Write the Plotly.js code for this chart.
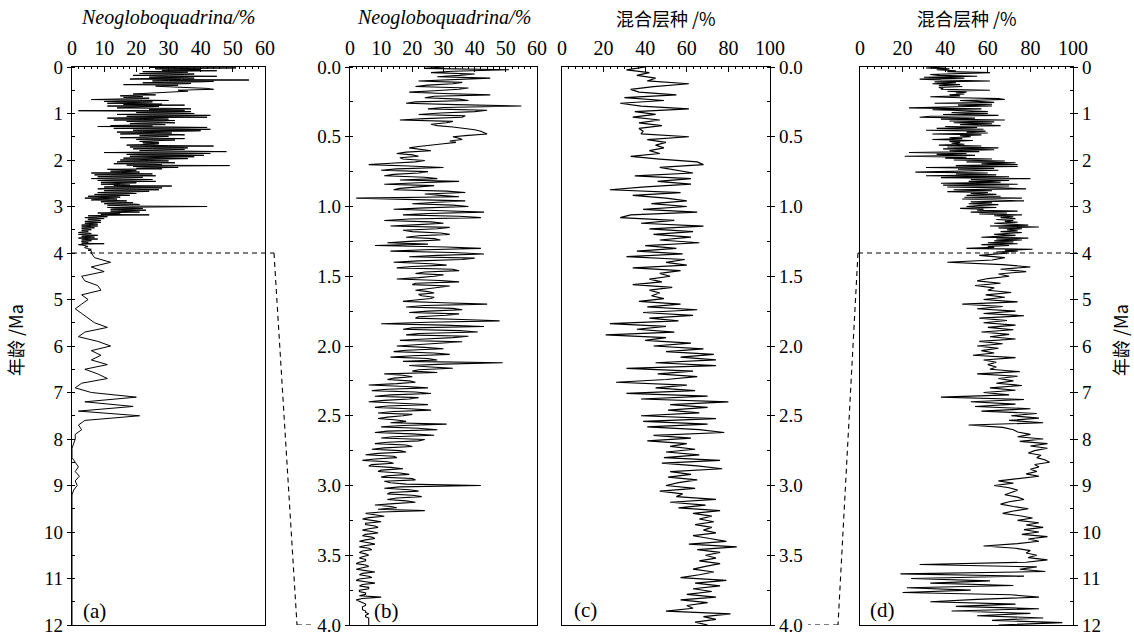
<!DOCTYPE html>
<html>
<head>
<meta charset="utf-8">
<script src="https://cdn.plot.ly/plotly-3.0.1.min.js"></script>
<style>html,body{margin:0;padding:0;background:#fff;}#chart{width:1134px;height:636px;}</style>
</head>
<body>
<div id="chart"></div>
<script>
// ---------------- DATA ----------------
// Age (Ma) sampling of the Neogloboquadrina record, 0-4 Ma
const AGE_NEO_RECENT = [
0,0.01,0.02,0.03,0.04,0.05,0.06,0.07,0.08,0.09,0.10,0.11,0.12,0.13,0.14,0.15,0.16,0.17,0.18,0.19,
0.20,0.21,0.22,0.23,0.24,0.25,0.26,0.27,0.28,0.29,0.30,0.31,0.32,0.33,0.34,0.35,0.36,0.37,0.38,0.39,
0.40,0.41,0.42,0.43,0.44,0.45,0.46,0.47,0.48,0.49,0.50,0.51,0.52,0.53,0.54,0.55,0.56,0.57,0.58,0.59,
0.60,0.61,0.62,0.63,0.64,0.65,0.66,0.67,0.68,0.69,0.70,0.71,0.72,0.73,0.74,0.75,0.76,0.77,0.78,0.79,
0.80,0.81,0.82,0.83,0.84,0.85,0.86,0.87,0.88,0.89,0.90,0.91,0.92,0.93,0.94,0.95,0.96,0.97,0.98,0.99,
1.00,1.01,1.02,1.03,1.04,1.05,1.06,1.07,1.08,1.09,1.10,1.11,1.12,1.13,1.14,1.15,1.16,1.17,1.18,1.19,
1.20,1.21,1.22,1.23,1.24,1.25,1.26,1.27,1.28,1.29,1.30,1.31,1.32,1.33,1.34,1.35,1.36,1.37,1.38,1.39,
1.40,1.41,1.42,1.43,1.44,1.45,1.46,1.47,1.48,1.49,1.50,1.51,1.52,1.53,1.54,1.55,1.56,1.57,1.58,1.59,
1.60,1.61,1.62,1.63,1.64,1.65,1.66,1.67,1.68,1.69,1.70,1.71,1.72,1.73,1.74,1.75,1.76,1.77,1.78,1.79,
1.80,1.81,1.82,1.83,1.84,1.85,1.86,1.87,1.88,1.89,1.90,1.91,1.92,1.93,1.94,1.95,1.96,1.97,1.98,1.99,
2.00,2.01,2.02,2.03,2.04,2.05,2.06,2.07,2.08,2.09,2.10,2.11,2.12,2.13,2.14,2.15,2.16,2.17,2.18,2.19,
2.20,2.21,2.22,2.23,2.24,2.25,2.26,2.27,2.28,2.29,2.30,2.31,2.32,2.33,2.34,2.35,2.36,2.37,2.38,2.39,
2.40,2.41,2.42,2.43,2.44,2.45,2.46,2.47,2.48,2.49,2.50,2.51,2.52,2.53,2.54,2.55,2.56,2.57,2.58,2.59,
2.60,2.61,2.62,2.63,2.64,2.65,2.66,2.67,2.68,2.69,2.70,2.71,2.72,2.73,2.74,2.75,2.76,2.77,2.78,2.79,
2.80,2.81,2.82,2.83,2.84,2.85,2.86,2.87,2.88,2.89,2.90,2.91,2.92,2.93,2.94,2.95,2.96,2.97,2.98,2.99,
3.00,3.01,3.02,3.03,3.04,3.05,3.06,3.07,3.08,3.09,3.10,3.11,3.12,3.13,3.14,3.15,3.16,3.17,3.18,3.19,
3.20,3.21,3.22,3.23,3.24,3.25,3.26,3.27,3.28,3.29,3.30,3.31,3.32,3.33,3.34,3.35,3.36,3.37,3.38,3.39,
3.40,3.41,3.42,3.43,3.44,3.45,3.46,3.47,3.48,3.49,3.50,3.51,3.52,3.53,3.54,3.55,3.56,3.57,3.58,3.59,
3.60,3.61,3.62,3.63,3.64,3.65,3.66,3.67,3.68,3.69,3.70,3.71,3.72,3.73,3.74,3.75,3.76,3.77,3.78,3.79,
3.80,3.81,3.82,3.83,3.84,3.85,3.86,3.87,3.88,3.89,3.90,3.91,3.92,3.93,3.94,3.95,3.96,3.97,3.98,3.99,
4.00];

// Neogloboquadrina % , 0-4 Ma
const NEO_RECENT = [
30,24,51,33,26,40,35,28,45,31,22,36,33,25,21,38,35,27,19,30,
45,27,24,35,38,21,18,34,55,30,25,44,40,29,22,37,36,24,16,33,
31,26,28,33,37,40,42,43,44,38,33,35,36,32,34,30,25,22,19,23,
26,18,15,20,22,16,17,24,21,13,6,19,30,15,10,25,22,14,11,24,
28,16,35,22,11,27,20,16,14,31,37,24,29,35,2,25,37,28,20,33,
38,24,14,30,43,25,17,35,42,19,11,26,30,22,13,32,28,17,20,29,
32,22,18,27,29,19,12,25,8,31,42,24,13,33,43,28,19,40,36,22,
14,26,31,20,15,33,35,24,21,30,27,22,15,29,35,21,20,32,28,23,
21,25,27,22,23,27,26,21,17,30,44,24,18,33,36,25,19,35,31,22,
21,36,48,25,10,30,43,20,17,35,41,22,18,38,33,24,16,36,29,21,
15,24,30,18,14,27,32,20,13,25,28,17,49,30,19,26,33,22,20,28,
11,17,20,14,12,19,21,15,6,18,25,12,7,21,26,13,8,22,19,11,
6,16,25,12,8,19,26,14,9,20,17,12,9,15,18,13,31,17,10,22,
28,12,8,20,27,14,10,24,22,12,8,18,20,11,7,16,18,9,5,14,
15,8,4,12,14,7,6,13,17,10,9,16,19,12,10,20,21,11,13,18,
42,16,11,19,22,13,12,20,23,15,12,18,21,14,8,13,15,9,24,10,
5,8,11,6,4,7,10,5,5,8,9,6,4,7,9,5,4,7,8,5,
3,6,8,5,3,6,7,4,3,5,6,4,3,5,5,3,2,5,6,4,
2,5,8,4,3,6,7,3,2,5,8,4,3,6,6,3,3,5,5,3,
10,4,2,3,4,5,5,4,4,4,5,5,6,5,5,6,6,6,6,6,
6];

// Neogloboquadrina %, 4-12 Ma
const NEO_AGE_OLD = [
4.1,4.2,4.3,4.4,4.5,4.6,4.7,4.8,4.9,5.0,
5.1,5.2,5.3,5.4,5.5,5.6,5.7,5.8,5.9,6.0,
6.1,6.2,6.3,6.4,6.5,6.6,6.7,6.8,6.9,7.0,
7.1,7.2,7.3,7.4,7.5,7.6,7.7,7.8,7.9,8.0,
8.1,8.2,8.3,8.4,8.5,8.6,8.7,8.8,8.9,9.0,
9.1,9.2,9.3,9.4,9.5,9.6,9.7,9.8,9.9,10.0,
10.1,10.2,10.3,10.4,10.5,10.6,10.7,10.8,10.9,11.0,
11.1,11.2,11.3,11.4,11.5,11.6,11.7,11.8,11.9,12.0];
const NEO_OLD = [
7,12,6,10,3,4,8,9,3,5,
3,1,3,5,7,11,4,2,8,12,
6,9,6,11,4,8,11,3,1,6,
20,4,19,2,21,4,2,3,1,1,
0.5,0,0,0,1,2,1,2.3,1,1.6,
0.5,0,0,0,0,0,0,0,0,0,
0,0,0,0,0,0,0,0,0,0,
0,0,0,0,0,0,0,0,0,0];

// Age (Ma) sampling of the mixed-layer record, 0-4 Ma
const AGE_MIX_RECENT = [
0.00,0.02,0.04,0.06,0.08,0.10,0.12,0.14,0.16,0.18,
0.20,0.22,0.24,0.26,0.28,0.30,0.32,0.34,0.36,0.38,
0.40,0.42,0.44,0.46,0.48,0.50,0.52,0.54,0.56,0.58,
0.60,0.62,0.64,0.66,0.68,0.70,0.72,0.74,0.76,0.78,
0.80,0.82,0.84,0.86,0.88,0.90,0.92,0.94,0.96,0.98,
1.00,1.02,1.04,1.06,1.08,1.10,1.12,1.14,1.16,1.18,
1.20,1.22,1.24,1.26,1.28,1.30,1.32,1.34,1.36,1.38,
1.40,1.42,1.44,1.46,1.48,1.50,1.52,1.54,1.56,1.58,
1.60,1.62,1.64,1.66,1.68,1.70,1.72,1.74,1.76,1.78,
1.80,1.82,1.84,1.86,1.88,1.90,1.92,1.94,1.96,1.98,
2.00,2.02,2.04,2.06,2.08,2.10,2.12,2.14,2.16,2.18,
2.20,2.22,2.24,2.26,2.28,2.30,2.32,2.34,2.36,2.38,
2.40,2.42,2.44,2.46,2.48,2.50,2.52,2.54,2.56,2.58,
2.60,2.62,2.64,2.66,2.68,2.70,2.72,2.74,2.76,2.78,
2.80,2.82,2.84,2.86,2.88,2.90,2.92,2.94,2.96,2.98,
3.00,3.02,3.04,3.06,3.08,3.10,3.12,3.14,3.16,3.18,
3.20,3.22,3.24,3.26,3.28,3.30,3.32,3.34,3.36,3.38,
3.40,3.42,3.44,3.46,3.48,3.50,3.52,3.54,3.56,3.58,
3.60,3.62,3.64,3.66,3.68,3.70,3.72,3.74,3.76,3.78,
3.80,3.82,3.84,3.86,3.88,3.90,3.92,3.94,3.96,3.98,
4.00];

// Mixed-layer species % (混合层种), 0-4 Ma
const MIX_RECENT = [
40,31,42,36,45,41,61,44,33,37,
55,30,49,28,38,61,35,45,34,47,
37,48,37,39,38,61,41,50,45,49,
42,47,33,47,65,68,47,55,63,35,
62,46,62,40,23,57,34,50,60,43,
60,39,65,33,28,54,38,68,42,63,
44,62,47,66,40,55,36,58,31,59,
50,60,34,57,47,52,42,48,34,53,
42,47,43,49,37,57,41,65,39,63,
42,56,23,50,36,54,21,50,40,62,
44,68,50,73,57,74,45,74,31,63,
46,65,50,26,60,45,64,31,70,38,
80,52,70,51,66,38,74,39,70,41,
66,78,44,62,41,60,52,64,50,66,
49,76,48,65,77,52,62,51,65,56,
50,64,47,58,55,74,52,69,56,76,
63,72,66,73,64,72,68,74,63,71,
79,61,84,65,76,69,74,66,76,69,
63,73,66,57,79,64,76,63,72,60,
74,57,70,60,63,50,81,68,74,64,
70];

// Mixed-layer species %, 4-12 Ma
const MIX_AGE_OLD = [
4.05,4.10,4.15,4.20,4.25,4.30,4.35,4.40,4.45,4.50,
4.55,4.60,4.65,4.70,4.75,4.80,4.85,4.90,4.95,5.00,
5.05,5.10,5.15,5.20,5.25,5.30,5.35,5.40,5.45,5.50,
5.55,5.60,5.65,5.70,5.75,5.80,5.85,5.90,5.95,6.00,
6.05,6.10,6.15,6.20,6.25,6.30,6.35,6.40,6.45,6.50,
6.55,6.60,6.65,6.70,6.75,6.80,6.85,6.90,6.95,7.00,
7.05,7.10,7.15,7.20,7.25,7.30,7.35,7.40,7.45,7.50,
7.55,7.60,7.65,7.70,7.75,7.80,7.85,7.90,7.95,8.00,
8.05,8.10,8.15,8.20,8.25,8.30,8.35,8.40,8.45,8.50,
8.55,8.60,8.65,8.70,8.75,8.80,8.85,8.90,8.95,9.00,
9.05,9.10,9.15,9.20,9.25,9.30,9.35,9.40,9.45,9.50,
9.55,9.60,9.65,9.70,9.75,9.80,9.85,9.90,9.95,10.00,
10.05,10.10,10.15,10.20,10.25,10.30,10.35,10.40,10.45,10.50,
10.55,10.60,10.65,10.70,10.75,10.80,10.85,10.90,10.95,11.00,
11.05,11.10,11.15,11.20,11.25,11.30,11.35,11.40,11.45,11.50,
11.55,11.60,11.65,11.70,11.75,11.80,11.85,11.90,11.95,12.00];
const MIX_OLD = [
56,68,62,41,67,80,66,78,65,70,
60,55,66,54,63,60,71,59,68,58,
74,48,67,55,73,58,77,56,69,58,
73,60,72,57,70,61,73,56,67,55,
65,57,63,53,73,58,64,60,64,61,
75,55,74,65,72,64,76,61,73,58,
70,38,77,52,73,54,80,57,83,71,
84,70,86,51,67,72,74,80,74,86,
75,88,80,88,82,79,85,83,87,89,
82,84,80,83,78,84,73,65,72,63,
70,74,71,68,74,77,70,66,72,79,
72,67,75,81,74,84,78,86,77,84,
76,88,79,84,74,58,73,80,78,83,
79,88,78,28,83,75,87,19,77,24,
61,33,72,22,52,20,71,84,55,33,
73,45,84,43,80,55,86,62,95,65];

const NEO_TICKS = [0,10,20,30,40,50,60];
const MIX_TICKS = [0,20,40,60,80,100];
const AGE_TICKS_FULL = [0,1,2,3,4,5,6,7,8,9,10,11,12];
const AGE_TICKS_ZOOM = [0,0.5,1,1.5,2,2.5,3,3.5,4];
const PANEL_LABELS = ['(a)','(b)','(c)','(d)'];
const NEO_TITLE = '<i>Neogloboquadrina/%</i>';
const MIX_TITLE = '混合层种 /%';
const AGE_TITLE = '年龄 /Ma';

// ---------------- LAYOUT ----------------
const W = 1134, H = 636;
const px = v => v / W;
const py = v => 1 - v / H;
const SERIF = 'Liberation Serif, Times New Roman, serif';
const CJK = 'Noto Sans CJK SC, sans-serif';
const tickFont = {family: SERIF, size: 20, color: '#000'};
const yTickFont = {family: SERIF, size: 19, color: '#000'};

function xAxis(dom, range, ticks, yname) {
  return {
    domain: dom, range: range, side: 'top', anchor: yname,
    tickmode: 'array', tickvals: ticks, ticktext: ticks.map(String),
    ticks: 'inside', ticklen: 5, tickwidth: 1, tickcolor: '#000',
    minor: {dtick: (range[1] - range[0]) / 30, ticks: 'inside', ticklen: 2, tickcolor: '#000'},
    showline: true, mirror: true, linecolor: '#000', linewidth: 1.3,
    showgrid: false, zeroline: false, tickfont: tickFont, automargin: false,
    ticklabelstandoff: 3, ticklabeloverflow: 'allow', fixedrange: true
  };
}
function yAxis(dom, range, ticks, xname, side, fmt, minorStep) {
  return {
    domain: dom, range: range, side: side, anchor: xname,
    tickmode: 'array', tickvals: ticks,
    ticktext: ticks.map(t => fmt ? t.toFixed(1) : String(t)),
    ticks: 'outside', ticklen: 4, tickwidth: 1, tickcolor: '#000',
    minor: {dtick: minorStep, ticks: 'inside', ticklen: 3, tickcolor: '#000'},
    showline: true, mirror: true, linecolor: '#000', linewidth: 1.3,
    showgrid: false, zeroline: false, tickfont: yTickFont, automargin: false,
    ticklabeloverflow: 'allow', fixedrange: true
  };
}

const yDom = [py(625), py(67)];
const layout = {
  width: W, height: H,
  margin: {l: 0, r: 0, t: 0, b: 0},
  paper_bgcolor: '#fff', plot_bgcolor: 'rgba(0,0,0,0)',
  showlegend: false,
  xaxis:  xAxis([px(72), px(265)], [0, 60], NEO_TICKS, 'y'),
  yaxis:  yAxis(yDom, [12, 0], AGE_TICKS_FULL, 'x', 'left', false, 0.5),
  xaxis2: xAxis([px(350), px(537)], [0, 60], NEO_TICKS, 'y2'),
  yaxis2: yAxis(yDom, [4, 0], AGE_TICKS_ZOOM, 'x2', 'left', true, 0.25),
  xaxis3: xAxis([px(562), px(770)], [0, 100], MIX_TICKS, 'y3'),
  yaxis3: yAxis(yDom, [4, 0], AGE_TICKS_ZOOM, 'x3', 'right', true, 0.25),
  xaxis4: xAxis([px(860), px(1073)], [0, 100], MIX_TICKS, 'y4'),
  yaxis4: yAxis(yDom, [12, 0], AGE_TICKS_FULL, 'x4', 'right', false, 0.5),
  annotations: [
    {text: NEO_TITLE, x: px(168), y: py(18)},
    {text: NEO_TITLE, x: px(444), y: py(18)},
    {text: MIX_TITLE, x: px(666), y: py(18), font: {family: CJK, size: 18, color: '#000'}},
    {text: MIX_TITLE, x: px(967), y: py(18), font: {family: CJK, size: 18, color: '#000'}},
    {text: AGE_TITLE, x: px(15), y: py(340), textangle: -90, font: {family: CJK, size: 18, color: '#000'}},
    {text: AGE_TITLE, x: px(1120), y: py(340), textangle: -90, font: {family: CJK, size: 18, color: '#000'}},
    {text: PANEL_LABELS[0], x: px(94), y: py(611), font: {family: SERIF, size: 21, color: '#000'}},
    {text: PANEL_LABELS[1], x: px(386), y: py(611), font: {family: SERIF, size: 21, color: '#000'}},
    {text: PANEL_LABELS[2], x: px(585), y: py(610), font: {family: SERIF, size: 21, color: '#000'}},
    {text: PANEL_LABELS[3], x: px(882), y: py(610), font: {family: SERIF, size: 21, color: '#000'}}
  ].map(a => Object.assign({xref: 'paper', yref: 'paper', showarrow: false,
          xanchor: 'center', yanchor: 'middle',
          font: {family: SERIF, size: 20, color: '#000'}}, a)),
  shapes: [
    // (a) -> (b) connector at 4 Ma
    {type: 'line', xref: 'paper', yref: 'y', x0: px(72), x1: px(274), y0: 4, y1: 4},
    {type: 'line', xref: 'paper', yref: 'y', x0: px(274), x1: px(297), y0: 4, y1: 12},
    {type: 'line', xref: 'paper', yref: 'y', x0: px(297), x1: px(311), y0: 12, y1: 12},
    // (d) -> (c) connector at 4 Ma
    {type: 'line', xref: 'paper', yref: 'y4', x0: px(858), x1: px(1077), y0: 4, y1: 4},
    {type: 'line', xref: 'paper', yref: 'y4', x0: px(858), x1: px(838), y0: 4, y1: 12},
    {type: 'line', xref: 'paper', yref: 'y4', x0: px(838), x1: px(808), y0: 12, y1: 12}
  ].map(s => Object.assign({line: {color: '#000', width: 1.1, dash: '5px,4px'}}, s))
};

const data = [
  {x: NEO_RECENT.concat(NEO_OLD), y: AGE_NEO_RECENT.concat(NEO_AGE_OLD), xaxis: 'x', yaxis: 'y', line: {color: '#000', width: 1}},
  {x: NEO_RECENT, y: AGE_NEO_RECENT, xaxis: 'x2', yaxis: 'y2', line: {color: '#000', width: 1.1}},
  {x: MIX_RECENT, y: AGE_MIX_RECENT, xaxis: 'x3', yaxis: 'y3', line: {color: '#000', width: 1.2}},
  {x: MIX_RECENT.concat(MIX_OLD), y: AGE_MIX_RECENT.concat(MIX_AGE_OLD), xaxis: 'x4', yaxis: 'y4', line: {color: '#000', width: 1.1}}
].map(t => Object.assign({type: 'scatter', mode: 'lines', hoverinfo: 'skip'}, t));

Plotly.newPlot('chart', data, layout, {staticPlot: true, displayModeBar: false});
</script>
</body>
</html>
